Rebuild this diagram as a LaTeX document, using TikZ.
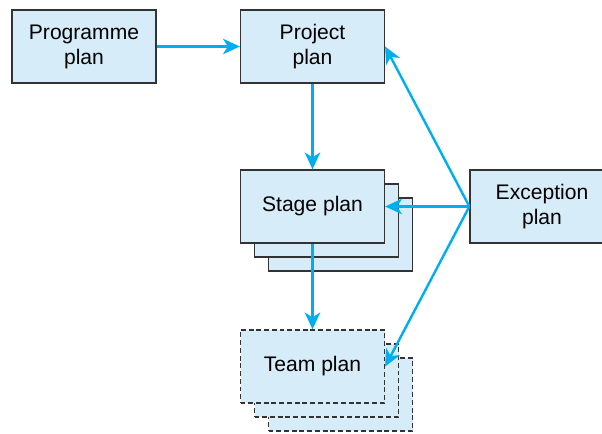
\documentclass[tikz,border=0pt]{standalone}
\usepackage{fontspec}
\setmainfont{Liberation Sans}
\usetikzlibrary{positioning,arrows.meta}

\definecolor{planfill}{HTML}{D6EDF9}
\definecolor{planline}{HTML}{333333}
\definecolor{flow}{HTML}{00AEEF}

\begin{document}
\begin{tikzpicture}[
    >={Stealth[length=12pt,width=11pt,inset=3.5pt]},
    every node/.style={font=\fontsize{15}{17.8}\selectfont},
    block/.style={draw=planline, line width=0.9pt, fill=planfill, minimum width=3.6cm, minimum height=1.825cm, align=center, inner sep=2pt},
    copyblock/.style={block, dashed, dash pattern=on 3.5pt off 2pt},
    flowline/.style={->, draw=flow, line width=1.7pt},
]
\useasboundingbox (0,0) rectangle (15.05,-10.825);

% Column X positions
\def\colxA{2.1}
\def\colxB{7.8125}
\def\colxC{13.55}

% Row 0: Programme and Project
\node[block] (programme) at (\colxA,-1.1625) {Programme\\plan};
\node[block] (project) at (\colxB,-1.1625) {Project\\plan};

% Row 1: Stage plan (stack of three)
\node[block] (stage3) at (\colxB+0.7,-5.8625) {};
\node[block] (stage2) at (\colxB+0.35,-5.5125) {};
\node[block] (stage) at (\colxB,-5.1625) {Stage plan};

% Exception plan (runs off the right edge)
\begin{scope}
\clip (0,0) rectangle (15.05,-10.825);
\node[block] (exception) at (\colxC,-5.1625) {Exception\\plan};
\end{scope}

% Row 2: Team plan (dashed stack of three)
\node[copyblock] (team3) at (\colxB+0.7,-9.8625) {};
\node[copyblock] (team2) at (\colxB+0.35,-9.5125) {};
\node[copyblock] (team) at (\colxB,-9.1625) {Team plan};

% Arrows
\draw[flowline] (programme) -- (project);
\draw[flowline] (project) -- (stage);
\draw[flowline] (stage) -- (team);

% Arrows from exception plan
\draw[flowline] (exception.west) -- (project.east);
\draw[flowline] (exception.west) -- (stage.east);
\draw[flowline] (exception.west) -- (team.east);

\end{tikzpicture}
\end{document}
